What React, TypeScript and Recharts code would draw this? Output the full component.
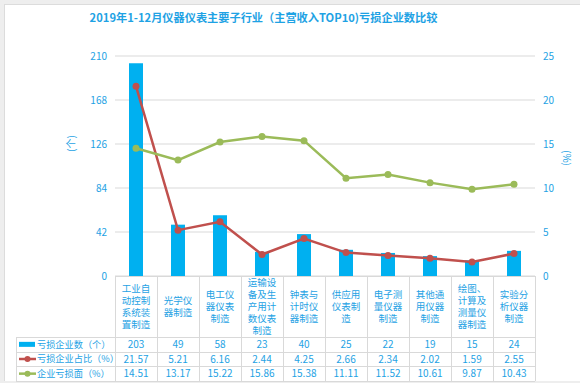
import { ComposedChart, Bar, Line, XAxis, YAxis, CartesianGrid } from 'recharts'

const categories = [
  '工业自动控制系统装置制造',
  '光学仪器制造',
  '电工仪器仪表制造',
  '运输设备及生产用计数仪表制造',
  '钟表与计时仪器制造',
  '供应用仪表制造',
  '电子测量仪器制造',
  '其他通用仪器制造',
  '绘图、计算及测量仪器制造',
  '实验分析仪器制造',
]
const lossCount = [203, 49, 58, 23, 40, 25, 22, 19, 15, 24]
const lossShare = [21.57, 5.21, 6.16, 2.44, 4.25, 2.66, 2.34, 2.02, 1.59, 2.55]
const lossRate = [14.51, 13.17, 15.22, 15.86, 15.38, 11.11, 11.52, 10.61, 9.87, 10.43]
const leftTicks = [0, 42, 84, 126, 168, 210]
const rightTicks = [0, 5, 10, 15, 20, 25]

const BLUE = '#00b0f0'
const RED = '#c0504d'
const GREEN = '#9bbb59'
const TEXT = '#1ea2e4'
const GRID = '#d9d9d9'
const FONT = '"Noto Sans CJK SC", "Noto Sans", sans-serif'

const data = categories.map((name, i) => ({
  name,
  count: lossCount[i],
  share: lossShare[i],
  rate: lossRate[i],
}))

const rows = [
  { label: '亏损企业数（个）', values: lossCount.map(String), color: BLUE, kind: 'bar' },
  { label: '亏损企业占比（%）', values: lossShare.map((v) => v.toFixed(2)), color: RED, kind: 'line' },
  { label: '企业亏损面（%）', values: lossRate.map((v) => v.toFixed(2)), color: GREEN, kind: 'line' },
]

function chunk(s: string, n: number) {
  const out: string[] = []
  for (let i = 0; i < s.length; i += n) out.push(s.slice(i, i + n))
  return out
}

// category names wrapped 3 chars per line, centred in the table header row
function CategoryTick(props: any) {
  const { x, y, payload } = props
  const lines = chunk(payload.value, 3)
  const center = y - 8 + 30.5
  const lh = 12
  const first = center - ((lines.length - 1) * lh) / 2 + 3.3
  return (
    <text x={x} y={first} textAnchor="middle" fontSize={9.5} fill={TEXT} fontFamily={FONT}>
      {lines.map((l, i) => (
        <tspan key={i} x={x} y={first + i * lh}>
          {l}
        </tspan>
      ))}
    </text>
  )
}

const plotLeft = 115
const band = 42
const rowTops = [337, 351.7, 366.3, 381]

export default function App() {
  return (
    <div
      style={{
        position: 'absolute',
        left: 0,
        top: 0,
        width: 580,
        height: 383,
        background: '#eeeeee',
        fontFamily: FONT,
        overflow: 'hidden',
      }}
    >
      <div
        style={{
          position: 'absolute',
          left: 4,
          top: 4,
          width: 580,
          height: 377,
          background: '#fff',
          borderLeft: '1px solid #dcdcdc',
          borderTop: '1px solid #dcdcdc',
          boxSizing: 'border-box',
        }}
      />
      <div
        style={{
          position: 'absolute',
          left: 0,
          width: 527,
          top: 9,
          textAlign: 'center',
          fontSize: 11.2,
          fontWeight: 'bold',
          color: TEXT,
        }}
      >
        2019年1-12月仪器仪表主要子行业（主营收入TOP10)亏损企业数比较
      </div>

      {/* data table under the plot */}
      <svg width={580} height={383} style={{ position: 'absolute', left: 0, top: 0 }}>
        <line x1={plotLeft} x2={plotLeft + band * 10} y1={276.5} y2={276.5} stroke={GRID} />
        {Array.from({ length: 11 }).map((_, i) => (
          <line
            key={i}
            x1={plotLeft + band * i + 0.5}
            x2={plotLeft + band * i + 0.5}
            y1={276}
            y2={381}
            stroke={GRID}
          />
        ))}
        <line x1={16.5} x2={16.5} y1={337} y2={381} stroke={GRID} />
        {rowTops.map((y, i) => (
          <line key={i} x1={16} x2={plotLeft + band * 10} y1={Math.round(y) + 0.5} y2={Math.round(y) + 0.5} stroke={GRID} />
        ))}
        {rows.map((r, ri) => {
          const cy = (rowTops[ri] + rowTops[ri + 1]) / 2
          return (
            <g key={r.label}>
              {r.kind === 'bar' ? (
                <rect x={19} y={cy - 2.5} width={16} height={5} fill={r.color} />
              ) : (
                <g>
                  <line x1={19} x2={36} y1={cy} y2={cy} stroke={r.color} strokeWidth={2.5} />
                  <circle cx={27.5} cy={cy} r={3} fill={r.color} />
                </g>
              )}
              <text x={37} y={cy + 3.3} fontSize={9.2} fill={TEXT} fontFamily={FONT}>
                {r.label}
              </text>
              {r.values.map((v, i) => (
                <text
                  key={i}
                  x={plotLeft + band * i + band / 2}
                  y={cy + 3.5}
                  textAnchor="middle"
                  fontSize={10}
                  fill={TEXT}
                  fontFamily={FONT}
                >
                  {v}
                </text>
              ))}
            </g>
          )
        })}
      </svg>

      <div style={{ position: 'absolute', left: 0, top: 0 }}>
        <ComposedChart
          width={580}
          height={383}
          data={data}
          margin={{ top: 56, left: 55, right: 5, bottom: 46 }}
        >
          <CartesianGrid stroke={GRID} vertical={false} yAxisId="left" />
          <XAxis
            dataKey="name"
            height={61}
            interval={0}
            axisLine={false}
            tickLine={false}
            tick={<CategoryTick />}
          />
          <YAxis
            yAxisId="left"
            width={60}
            domain={[0, 210]}
            ticks={leftTicks}
            axisLine={false}
            tickLine={false}
            tick={{ fontSize: 10, fill: TEXT, fontFamily: FONT }}
            label={{
              value: '(个)',
              angle: -90,
              position: 'insideLeft',
              offset: 16,
              dy: -14,
              style: { fontSize: 10, fill: TEXT, fontFamily: FONT },
            }}
          />
          <YAxis
            yAxisId="right"
            orientation="right"
            width={40}
            domain={[0, 25]}
            ticks={rightTicks}
            axisLine={false}
            tickLine={false}
            tick={{ fontSize: 10, fill: TEXT, fontFamily: FONT, textAnchor: 'start' }}
            label={{
              value: '(%)',
              angle: 90,
              position: 'insideRight',
              offset: 8,
              style: { fontSize: 10, fill: TEXT, fontFamily: FONT },
            }}
          />
          <Bar yAxisId="left" dataKey="count" fill={BLUE} barSize={14} isAnimationActive={false} />
          <Line
            yAxisId="right"
            type="linear"
            dataKey="share"
            stroke={RED}
            strokeWidth={2.5}
            dot={{ r: 3.5, fill: RED, stroke: RED, strokeWidth: 0 }}
            isAnimationActive={false}
          />
          <Line
            yAxisId="right"
            type="linear"
            dataKey="rate"
            stroke={GREEN}
            strokeWidth={2.5}
            dot={{ r: 3.5, fill: GREEN, stroke: GREEN, strokeWidth: 0 }}
            isAnimationActive={false}
          />
        </ComposedChart>
      </div>
    </div>
  )
}
